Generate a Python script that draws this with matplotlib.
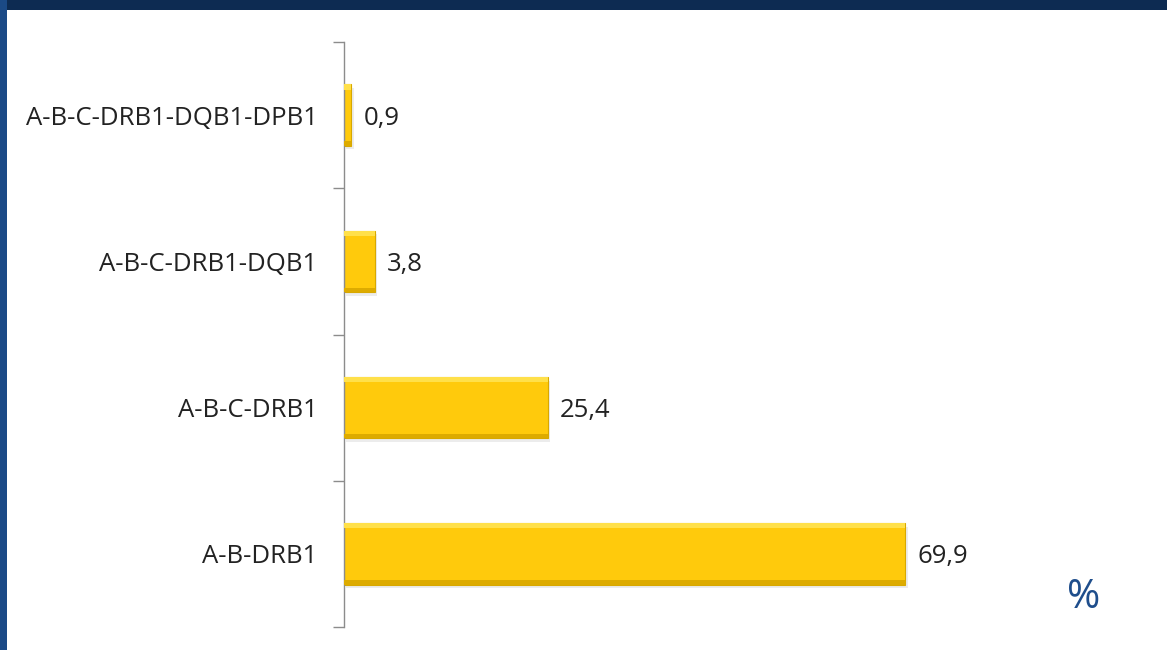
import matplotlib
matplotlib.use("Agg")
import matplotlib.pyplot as plt
from matplotlib.patches import Rectangle
import numpy as np

# data, bottom to top
categories = ["A-B-DRB1", "A-B-C-DRB1", "A-B-C-DRB1-DQB1", "A-B-C-DRB1-DQB1-DPB1"]
values = [69.9, 25.4, 3.8, 0.9]
value_labels = ["69,9", "25,4", "3,8", "0,9"]
unit_label = "%"

W, H = 1167, 650
GOLD = "#FFCA0C"
GOLD_LIGHT = "#FFE04A"

plt.rcParams["font.family"] = ["Open Sans", "DejaVu Sans"]

fig = plt.figure(figsize=(W / 100, H / 100), dpi=100)
fig.patch.set_facecolor("white")

# slide frame: navy band on top, blue band on the left
fig.patches.append(Rectangle((0, 1 - 10 / H), 1, 10 / H, transform=fig.transFigure,
                             facecolor="#0d2b52", edgecolor="none", zorder=0))
fig.patches.append(Rectangle((0, 0), 7 / W, 1, transform=fig.transFigure,
                             facecolor="#1b4a86", edgecolor="none", zorder=0))

left, right = 344 / W, 1100 / W
bottom, top = (H - 627) / H, (H - 42) / H
ax = fig.add_axes([left, bottom, right - left, top - bottom])
ax.set_facecolor("none")

y = np.arange(len(categories))
h = 0.42
px_per_unit = 8.03
ax.set_xlim(0, (1100 - 344) / px_per_unit)
ax.set_ylim(-0.5, len(categories) - 0.5)

# soft shadow, main face, then bevel strips
ax.barh(y - 0.025, values, height=h, left=0.3, color="#ececec", zorder=1)
ax.barh(y, values, height=h, color=GOLD, edgecolor="#D8A800", linewidth=0.8, zorder=2)
ax.barh(y + h / 2 - 0.018, values, height=0.036, color=GOLD_LIGHT, zorder=3)
ax.barh(y - h / 2 + 0.015, values, height=0.03, color="#DDAB00", zorder=3)

for yi, v, lab in zip(y, values, value_labels):
    ax.text(v + 1.5, yi - 0.02, lab, va="center", ha="left", fontsize=18.5, color="#222222")

for s in ("top", "right", "bottom"):
    ax.spines[s].set_visible(False)
ax.spines["left"].set_color("#8c8c8c")
ax.spines["left"].set_linewidth(1.0)

ax.set_xticks([])
ax.set_yticks(np.arange(-0.5, len(categories)), labels=[])
ax.tick_params(axis="y", which="major", length=8, color="#8c8c8c", width=1.0)
ax.set_yticks(y, labels=categories, minor=True)
ax.tick_params(axis="y", which="minor", length=0, pad=19, labelsize=18.5, labelcolor="#222222")

fig.text(1084 / W, 1 - 598 / H, unit_label, ha="center", va="center",
         fontsize=29, color="#1f4e8c")

fig.savefig("out.png", dpi=100, facecolor="white")
